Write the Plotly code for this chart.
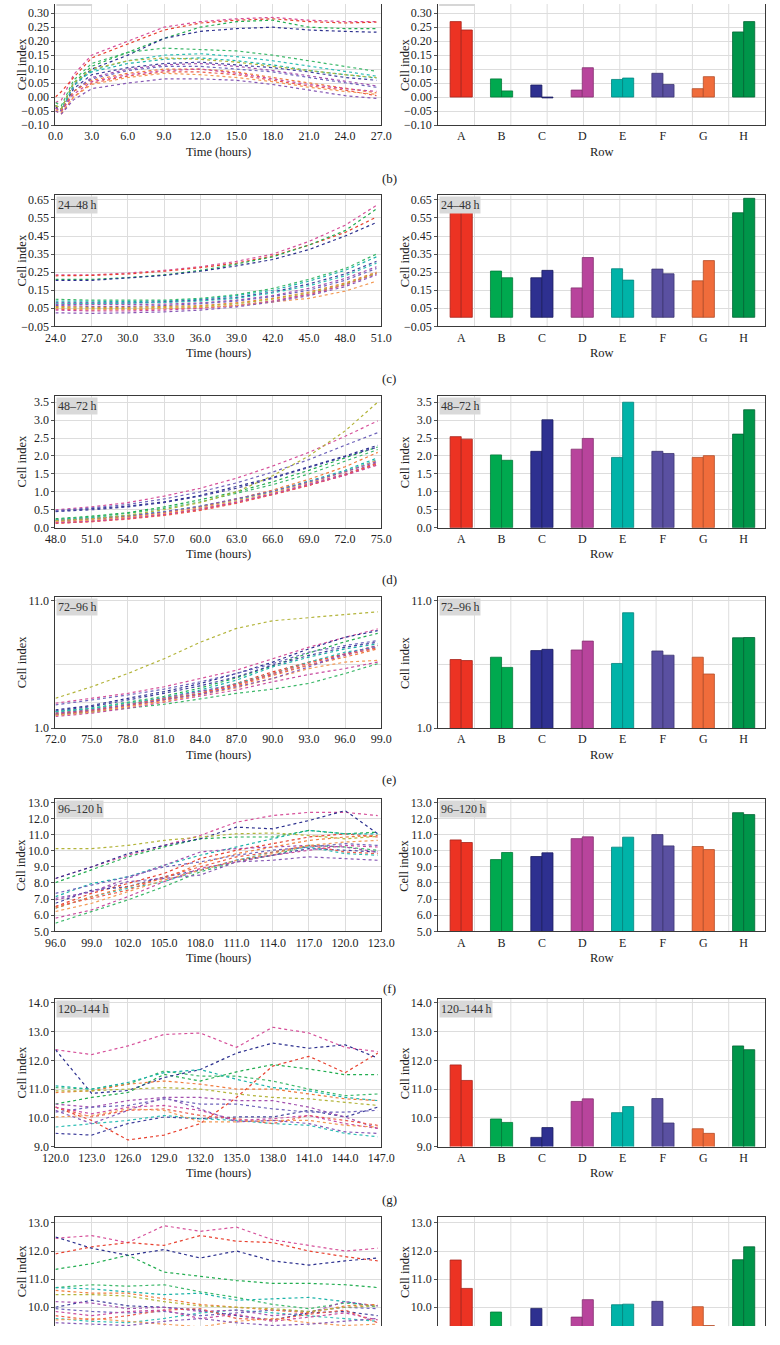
import plotly.graph_objects as go

W, H = 780, 1345
FONT = "Liberation Serif"

ROW_LABELS = ["A", "B", "C", "D", "E", "F", "G", "H"]
BAR_COLORS = ["#ec3323", "#00a94f", "#2e3090", "#b8449c", "#00b3a8", "#5a50a1", "#f06c3b", "#00954a"]
BAR_EDGES = ["#a8231a", "#007a39", "#1c1d60", "#84306f", "#00837b", "#3d3672", "#b24c28", "#006633"]
LINE_COLORS = ["#d6509a", "#e8402e", "#22ad50", "#2b2f8e", "#3cb86a", "#1ab3a8", "#3f3f9c", "#2fbfb5",
               "#a24fae", "#6d62ba", "#f07a3a", "#ec5b4a", "#c84a9e", "#f39a55", "#8658b5", "#b3b43a"]

# ---------------- 0-24 h ----------------
T_0_24 = [0, 0.5, 1.5, 3, 6, 9, 12, 15, 18, 21, 24, 26.6]
CI_0_24 = [
    [-0.02, -0.01, 0.08, 0.15, 0.20, 0.25, 0.27, 0.28, 0.285, 0.275, 0.27, 0.27],
    [0.0, 0.02, 0.07, 0.14, 0.19, 0.24, 0.265, 0.275, 0.28, 0.27, 0.265, 0.268],
    [-0.03, -0.04, 0.05, 0.11, 0.16, 0.21, 0.25, 0.27, 0.275, 0.25, 0.245, 0.245],
    [-0.03, -0.045, 0.04, 0.10, 0.15, 0.21, 0.235, 0.245, 0.25, 0.24, 0.235, 0.232],
    [-0.02, -0.03, 0.06, 0.12, 0.16, 0.175, 0.17, 0.165, 0.15, 0.13, 0.11, 0.092],
    [-0.03, -0.04, 0.05, 0.09, 0.12, 0.135, 0.14, 0.13, 0.115, 0.095, 0.08, 0.068],
    [-0.035, -0.05, 0.03, 0.08, 0.105, 0.12, 0.125, 0.115, 0.105, 0.09, 0.07, 0.06],
    [-0.03, -0.045, 0.04, 0.095, 0.13, 0.15, 0.155, 0.145, 0.13, 0.11, 0.09, 0.075],
    [-0.04, -0.05, 0.02, 0.07, 0.10, 0.115, 0.12, 0.11, 0.095, 0.075, 0.055, 0.04],
    [-0.04, -0.05, 0.02, 0.065, 0.095, 0.11, 0.11, 0.10, 0.09, 0.07, 0.05, 0.035],
    [-0.03, -0.045, 0.02, 0.06, 0.085, 0.10, 0.10, 0.09, 0.07, 0.05, 0.03, 0.015],
    [-0.05, -0.06, 0.0, 0.05, 0.075, 0.09, 0.09, 0.08, 0.06, 0.04, 0.025, 0.005],
    [-0.04, -0.05, 0.01, 0.055, 0.08, 0.095, 0.10, 0.085, 0.065, 0.045, 0.03, 0.02],
    [-0.045, -0.055, 0.0, 0.045, 0.07, 0.085, 0.08, 0.07, 0.055, 0.035, 0.02, 0.01],
    [-0.05, -0.06, -0.01, 0.03, 0.05, 0.065, 0.065, 0.06, 0.045, 0.025, 0.005, -0.005],
    [-0.03, -0.04, 0.05, 0.10, 0.13, 0.14, 0.135, 0.125, 0.11, 0.095, 0.08, 0.07],
]
BAR1_0_24 = [0.27, 0.065, 0.043, 0.025, 0.063, 0.085, 0.03, 0.233]
BAR2_0_24 = [0.24, 0.022, -0.003, 0.105, 0.068, 0.045, 0.073, 0.27]
YT_0_24 = [-0.10, -0.05, 0.0, 0.05, 0.10, 0.15, 0.20, 0.25, 0.30]

# ---------------- 24-48 h ----------------
T_24_48 = [24, 27, 30, 33, 36, 39, 42, 45, 48, 50.6]
CI_24_48 = [
    [0.235, 0.235, 0.245, 0.26, 0.28, 0.31, 0.35, 0.42, 0.51, 0.62],
    [0.23, 0.232, 0.24, 0.255, 0.275, 0.30, 0.34, 0.40, 0.47, 0.555],
    [0.21, 0.21, 0.22, 0.235, 0.26, 0.295, 0.335, 0.40, 0.48, 0.60],
    [0.205, 0.205, 0.218, 0.232, 0.255, 0.285, 0.32, 0.375, 0.45, 0.525],
    [0.10, 0.095, 0.095, 0.095, 0.105, 0.125, 0.16, 0.21, 0.27, 0.35],
    [0.09, 0.088, 0.088, 0.09, 0.10, 0.12, 0.15, 0.20, 0.26, 0.335],
    [0.08, 0.078, 0.08, 0.085, 0.095, 0.11, 0.14, 0.185, 0.24, 0.31],
    [0.075, 0.075, 0.078, 0.082, 0.09, 0.105, 0.135, 0.175, 0.23, 0.30],
    [0.07, 0.068, 0.07, 0.073, 0.08, 0.095, 0.12, 0.16, 0.215, 0.28],
    [0.065, 0.06, 0.06, 0.065, 0.075, 0.09, 0.115, 0.15, 0.205, 0.27],
    [0.06, 0.055, 0.055, 0.058, 0.065, 0.08, 0.105, 0.14, 0.19, 0.25],
    [0.045, 0.04, 0.042, 0.045, 0.052, 0.065, 0.09, 0.125, 0.18, 0.245],
    [0.04, 0.035, 0.035, 0.04, 0.05, 0.065, 0.09, 0.13, 0.18, 0.24],
    [0.05, 0.045, 0.045, 0.048, 0.055, 0.065, 0.085, 0.105, 0.145, 0.20],
    [0.025, 0.022, 0.025, 0.03, 0.04, 0.058, 0.085, 0.12, 0.17, 0.235],
    [0.055, 0.05, 0.05, 0.055, 0.06, 0.075, 0.10, 0.135, 0.185, 0.245],
]
BAR1_24_48 = [0.581, 0.256, 0.219, 0.163, 0.269, 0.267, 0.202, 0.579]
BAR2_24_48 = [0.616, 0.219, 0.260, 0.331, 0.206, 0.241, 0.314, 0.659]
YT_24_48 = [-0.05, 0.05, 0.15, 0.25, 0.35, 0.45, 0.55, 0.65]

# ---------------- 48-72 h ----------------
T_48_72 = [48, 51, 54, 57, 60, 63, 66, 69, 72, 74.7]
CI_48_72 = [
    [0.5, 0.58, 0.7, 0.88, 1.1, 1.38, 1.72, 2.1, 2.55, 2.98],
    [0.12, 0.17, 0.25, 0.36, 0.5, 0.7, 0.93, 1.18, 1.47, 1.78],
    [0.25, 0.32, 0.42, 0.58, 0.78, 1.0, 1.28, 1.6, 1.95, 2.25],
    [0.46, 0.52, 0.6, 0.72, 0.9, 1.15, 1.4, 1.7, 2.0, 2.3],
    [0.23, 0.3, 0.4, 0.54, 0.72, 0.95, 1.2, 1.5, 1.85, 2.18],
    [0.22, 0.27, 0.34, 0.45, 0.6, 0.8, 1.02, 1.3, 1.6, 1.95],
    [0.45, 0.5, 0.58, 0.7, 0.88, 1.1, 1.38, 1.68, 1.98, 2.25],
    [0.2, 0.25, 0.32, 0.43, 0.58, 0.78, 1.0, 1.27, 1.57, 1.9],
    [0.16, 0.2, 0.28, 0.38, 0.53, 0.72, 0.95, 1.22, 1.5, 1.82],
    [0.48, 0.55, 0.65, 0.8, 1.0, 1.25, 1.55, 1.9, 2.3, 2.65],
    [0.18, 0.23, 0.3, 0.42, 0.58, 0.8, 1.05, 1.35, 1.7, 2.1],
    [0.13, 0.17, 0.24, 0.34, 0.48, 0.68, 0.92, 1.18, 1.48, 1.8],
    [0.14, 0.18, 0.26, 0.37, 0.52, 0.71, 0.94, 1.2, 1.46, 1.75],
    [0.17, 0.21, 0.29, 0.4, 0.55, 0.75, 0.98, 1.25, 1.55, 1.88],
    [0.2, 0.25, 0.33, 0.44, 0.6, 0.8, 1.02, 1.28, 1.56, 1.85],
    [0.2, 0.25, 0.35, 0.5, 0.7, 1.0, 1.45, 2.0, 2.7, 3.5],
]
BAR1_48_72 = [2.54, 2.03, 2.13, 2.19, 1.96, 2.13, 1.96, 2.61]
BAR2_48_72 = [2.47, 1.88, 3.01, 2.49, 3.50, 2.07, 2.01, 3.29]
YT_48_72 = [0.0, 0.5, 1.0, 1.5, 2.0, 2.5, 3.0, 3.5]

# ---------------- 72-96 h ----------------
T_72_96 = [72, 75, 78, 81, 84, 87, 90, 93, 96, 98.7]
CI_72_96 = [
    [2.95, 3.34, 3.73, 4.25, 4.9, 5.55, 6.45, 7.36, 8.14, 8.8],
    [2.04, 2.3, 2.69, 3.21, 3.73, 4.51, 5.42, 6.19, 6.84, 7.49],
    [2.3, 2.56, 3.03, 3.5, 4.15, 4.95, 5.9, 6.9, 7.8, 8.45],
    [2.43, 2.77, 3.34, 3.86, 4.5, 5.29, 6.19, 7.23, 8.14, 8.66],
    [2.04, 2.25, 2.56, 2.87, 3.29, 3.73, 4.06, 4.51, 5.29, 6.06],
    [2.25, 2.51, 2.95, 3.39, 3.99, 4.77, 5.81, 6.58, 7.23, 7.62],
    [2.35, 2.69, 3.21, 3.73, 4.32, 5.03, 5.94, 6.71, 7.36, 7.75],
    [2.3, 2.56, 2.95, 3.34, 3.86, 4.5, 5.29, 6.19, 6.97, 7.36],
    [2.09, 2.35, 2.82, 3.34, 3.86, 4.43, 5.21, 5.99, 6.71, 7.36],
    [2.82, 3.21, 3.6, 4.06, 4.64, 5.29, 6.06, 6.97, 7.49, 7.88],
    [2.17, 2.43, 2.87, 3.29, 3.73, 4.32, 5.1, 5.94, 6.58, 7.23],
    [2.12, 2.38, 2.77, 3.21, 3.7, 4.4, 5.3, 6.1, 6.8, 7.3],
    [1.91, 2.17, 2.56, 3.03, 3.47, 3.99, 4.64, 5.21, 5.68, 6.19],
    [1.99, 2.25, 2.69, 3.08, 3.6, 4.17, 4.9, 5.68, 6.19, 6.32],
    [2.17, 2.43, 2.82, 3.21, 3.65, 4.25, 4.9, 5.81, 6.84, 7.49],
    [3.34, 4.25, 5.29, 6.45, 7.75, 8.84, 9.44, 9.7, 9.96, 10.14],
]
BAR1_72_96 = [6.39, 6.57, 7.09, 7.14, 6.08, 7.06, 6.57, 8.10]
BAR2_72_96 = [6.31, 5.77, 7.19, 7.84, 10.07, 6.73, 5.25, 8.12]
YT_72_96 = [1.0, 11.0]
YGRID_72_96 = [3.0, 6.0]

# ---------------- 96-120 h ----------------
T_96_120 = [96, 99, 102, 105, 108, 111, 114, 117, 120, 122.7]
CI_96_120 = [
    [8.28, 9.0, 9.72, 10.33, 10.95, 11.77, 12.18, 12.38, 12.38, 12.18],
    [6.54, 7.36, 7.97, 8.59, 9.51, 10.03, 10.44, 10.85, 11.05, 10.85],
    [8.02, 8.8, 9.62, 10.23, 10.74, 10.85, 10.85, 11.26, 11.05, 11.15],
    [8.28, 9.0, 9.82, 10.33, 10.74, 11.46, 11.36, 11.87, 12.49, 11.05],
    [5.51, 6.23, 6.95, 7.77, 8.69, 9.31, 9.72, 10.33, 10.23, 10.03],
    [7.15, 7.97, 8.38, 9.1, 9.72, 10.23, 10.74, 11.26, 11.05, 11.05],
    [6.74, 7.56, 7.77, 8.38, 8.8, 9.41, 9.72, 10.13, 10.03, 9.92],
    [6.44, 7.15, 7.67, 8.08, 8.8, 9.41, 9.92, 10.23, 9.82, 9.72],
    [6.95, 7.46, 8.28, 9.1, 9.92, 10.13, 10.23, 10.33, 10.23, 9.92],
    [7.36, 7.87, 8.38, 9.0, 9.31, 9.72, 10.03, 10.23, 10.44, 10.33],
    [6.44, 7.15, 7.77, 8.28, 9.2, 9.82, 10.23, 10.64, 10.85, 10.95],
    [6.54, 7.05, 7.56, 8.38, 9.0, 9.62, 9.92, 10.33, 9.92, 9.82],
    [5.82, 6.33, 7.15, 8.08, 8.9, 9.31, 9.72, 10.03, 10.33, 10.23],
    [6.23, 6.74, 7.46, 8.18, 8.8, 9.41, 9.82, 10.33, 10.54, 10.64],
    [7.05, 7.46, 8.08, 8.28, 8.49, 9.31, 9.41, 9.62, 9.51, 9.41],
    [10.13, 10.13, 10.33, 10.64, 10.85, 11.05, 11.1, 10.95, 10.74, 10.89],
]
BAR1_96_120 = [10.67, 9.45, 9.64, 10.75, 10.22, 11.0, 10.26, 12.36]
BAR2_96_120 = [10.51, 9.89, 9.87, 10.86, 10.84, 10.30, 10.07, 12.24]
YT_96_120 = [5.0, 6.0, 7.0, 8.0, 9.0, 10.0, 11.0, 12.0, 13.0]

# ---------------- 120-144 h ----------------
T_120_144 = [120, 123, 126, 129, 132, 135, 138, 141, 144, 146.7]
CI_120_144 = [
    [12.37, 12.2, 12.5, 12.9, 12.95, 12.45, 13.15, 12.95, 12.45, 12.3],
    [10.37, 9.91, 9.23, 9.4, 9.8, 10.71, 11.8, 12.14, 11.57, 12.25],
    [10.48, 10.71, 10.88, 11.51, 11.28, 11.6, 11.85, 11.7, 11.5, 11.5],
    [12.37, 10.85, 10.95, 11.4, 11.68, 12.25, 12.6, 12.42, 12.54, 12.08],
    [11.05, 11.0, 11.17, 11.63, 11.45, 11.45, 11.28, 11.0, 10.77, 10.83],
    [11.11, 11.0, 11.23, 11.57, 11.68, 11.34, 11.05, 10.94, 10.71, 10.6],
    [9.46, 9.4, 9.8, 10.03, 9.97, 10.03, 10.03, 10.26, 10.03, 10.37],
    [9.68, 9.8, 9.91, 10.08, 9.97, 9.91, 9.8, 9.74, 9.46, 9.34],
    [10.48, 10.37, 10.6, 10.71, 10.71, 10.6, 10.6, 10.37, 10.03, 9.63],
    [10.2, 10.37, 10.43, 10.66, 10.48, 10.48, 10.31, 10.2, 10.2, 10.26],
    [10.88, 10.94, 11.17, 11.28, 11.17, 11.0, 11.0, 10.83, 10.66, 10.6],
    [10.37, 10.03, 10.26, 10.31, 10.08, 9.97, 9.8, 10.08, 9.91, 9.74],
    [10.37, 10.14, 10.37, 10.43, 10.26, 9.91, 9.97, 10.08, 9.8, 9.63],
    [10.03, 10.08, 10.31, 10.26, 9.86, 9.86, 9.91, 9.91, 9.74, 9.68],
    [10.26, 9.8, 10.26, 10.71, 10.31, 9.86, 9.91, 9.8, 9.51, 9.46],
    [10.94, 10.94, 11.0, 11.05, 11.0, 10.83, 10.71, 10.66, 10.54, 10.43],
]
BAR1_120_144 = [11.84, 9.96, 9.32, 10.57, 10.18, 10.67, 9.62, 12.50]
BAR2_120_144 = [11.30, 9.84, 9.66, 10.66, 10.39, 9.82, 9.46, 12.37]
YT_120_144 = [9.0, 10.0, 11.0, 12.0, 13.0, 14.0]

# ---------------- 144-168 h ----------------
T_144_168 = [144, 147, 150, 153, 156, 159, 162, 165, 168, 170.7]
CI_144_168 = [
    [12.45, 12.55, 12.3, 12.9, 12.7, 12.85, 12.4, 12.2, 12.0, 12.1],
    [11.9, 12.15, 12.3, 12.2, 12.55, 12.35, 12.3, 12.0, 11.8, 11.65],
    [11.35, 11.55, 11.85, 11.25, 11.1, 10.95, 10.85, 10.85, 10.8, 10.7],
    [12.5, 12.1, 11.85, 12.05, 11.75, 12.0, 11.65, 11.5, 11.65, 11.75],
    [10.7, 10.8, 10.75, 10.8, 10.55, 10.35, 10.1, 9.95, 10.15, 10.05],
    [10.7, 10.65, 10.55, 10.45, 10.5, 10.25, 10.3, 10.35, 10.2, 10.0],
    [10.0, 10.25, 10.05, 10.0, 9.9, 9.7, 9.55, 9.8, 9.85, 9.7],
    [9.6, 9.5, 9.45, 9.6, 9.8, 9.9, 9.8, 9.7, 9.6, 9.5],
    [10.2, 10.15, 9.95, 10.0, 9.85, 9.9, 9.7, 9.8, 10.2, 10.05],
    [9.95, 9.85, 9.8, 9.85, 9.7, 9.8, 9.9, 9.85, 10.0, 9.95],
    [10.6, 10.5, 10.5, 10.3, 10.1, 10.0, 9.9, 9.8, 10.05, 10.1],
    [9.7, 9.55, 9.7, 9.9, 9.95, 9.6, 9.55, 9.75, 9.9, 9.45],
    [9.85, 9.7, 9.85, 9.9, 9.6, 9.75, 9.5, 9.65, 9.8, 9.55],
    [9.55, 9.6, 9.5, 9.4, 9.3, 9.5, 9.6, 9.45, 9.35, 9.4],
    [9.45, 9.4, 9.35, 9.5, 9.6, 9.45, 9.35, 9.4, 9.5, 9.6],
    [10.45, 10.45, 10.4, 10.2, 10.05, 10.0, 9.95, 9.85, 10.0, 10.05],
]
BAR1_144_168 = [11.68, 9.83, 9.96, 9.65, 10.09, 10.21, 10.02, 11.69]
BAR2_144_168 = [10.67, 9.1, 9.0, 10.27, 10.11, 9.2, 9.35, 12.15]
YT_144_168 = [10.0, 11.0, 12.0, 13.0]

PANELS = [
    dict(tag="0–24\u2009h", t=T_0_24, ci=CI_0_24, b1=BAR1_0_24, b2=BAR2_0_24, xr=[0, 27],
         top=0, bot=122, yr=[-0.10, 0.333], yt=YT_0_24, fmt=".2f", letter="(b)", ly=176, cut="top"),
    dict(tag="24–48\u2009h", t=T_24_48, ci=CI_24_48, b1=BAR1_24_48, b2=BAR2_24_48, xr=[24, 51],
         top=193, bot=325, yr=[-0.05, 0.675], yt=YT_24_48, fmt=".2f", letter="(c)", ly=378, cut=None),
    dict(tag="48–72\u2009h", t=T_48_72, ci=CI_48_72, b1=BAR1_48_72, b2=BAR2_48_72, xr=[48, 75],
         top=395, bot=528, yr=[0.0, 3.68], yt=YT_48_72, fmt=".1f", letter="(d)", ly=580, cut=None),
    dict(tag="72–96\u2009h", t=T_72_96, ci=CI_72_96, b1=BAR1_72_96, b2=BAR2_72_96, xr=[72, 99],
         top=598, bot=730, yr=[1.0, 11.3], yt=YT_72_96, fmt=".1f", letter="(e)", ly=782, cut=None,
         ygrid=YGRID_72_96),
    dict(tag="96–120\u2009h", t=T_96_120, ci=CI_96_120, b1=BAR1_96_120, b2=BAR2_96_120, xr=[96, 123],
         top=802, bot=935, yr=[5.0, 13.18], yt=YT_96_120, fmt=".1f", letter="(f)", ly=993, cut=None),
    dict(tag="120–144\u2009h", t=T_120_144, ci=CI_120_144, b1=BAR1_120_144, b2=BAR2_120_144, xr=[120, 147],
         top=1003, bot=1152, yr=[9.0, 14.14], yt=YT_120_144, fmt=".1f", letter="(g)", ly=1205, cut=None),
    dict(tag="144–168\u2009h", t=T_144_168, ci=CI_144_168, b1=BAR1_144_168, b2=BAR2_144_168, xr=[144, 171],
         top=1223, bot=1333, yr=[9.33, 13.21], yt=YT_144_168, fmt=".1f", letter=None, ly=None, cut="bottom"),
]

LEFT_X = (43, 381)
RIGHT_X = (440, 779)
FRAME = "#3a3a3a"
GRID = "#dddddd"

fig = go.Figure()
layout = dict(width=W, height=H, margin=dict(l=0, r=0, t=0, b=0), showlegend=False,
              plot_bgcolor="white", paper_bgcolor="white", barmode="overlay",
              font=dict(family=FONT, color="#222222", size=12))
annotations = []
shapes = []


def ax_name(kind, idx):
    return kind if idx == 1 else f"{kind}{idx}"


for i, p in enumerate(PANELS):
    ydom = [1 - p["bot"] / H, 1 - p["top"] / H]
    ymid = 1 - (p["top"] + p["bot"]) / 2 / H
    for side, xpx in (("L", LEFT_X), ("R", RIGHT_X)):
        idx = 2 * i + (1 if side == "L" else 2)
        xn, yn = ax_name("x", idx), ax_name("y", idx)
        xdom = [xpx[0] / W, xpx[1] / W]
        xa = dict(domain=xdom, anchor=yn, showline=True, linecolor=FRAME, linewidth=1, mirror=True,
                  zeroline=False, ticks="", tickfont=dict(family=FONT, size=12, color="#222"))
        ya = dict(domain=ydom, anchor=xn, range=p["yr"], showline=True, linecolor=FRAME, linewidth=1,
                  mirror=True, zeroline=False, tickvals=p["yt"], tickformat=p["fmt"],
                  showgrid=True, gridcolor=GRID, gridwidth=1,
                  ticks="outside", ticklen=3, tickcolor="#555",
                  tickfont=dict(family=FONT, size=12, color="#222"))
        if side == "L":
            xa.update(range=p["xr"], dtick=3, tick0=0, tickformat=".1f", showgrid=True,
                      gridcolor=GRID, gridwidth=1)
            for k, series in enumerate(p["ci"]):
                fig.add_trace(go.Scatter(x=p["t"], y=series, xaxis=xn, yaxis=yn, mode="lines",
                                         line=dict(color=LINE_COLORS[k], width=1.2, dash="dot")))
            xtitle = "Time (hours)"
        else:
            xa.update(range=[-0.57, 7.53], tickvals=list(range(8)), ticktext=ROW_LABELS, showgrid=False)
            fig.add_trace(go.Bar(x=list(range(8)), y=p["b1"], xaxis=xn, yaxis=yn, offset=-0.275, width=0.275,
                                 marker=dict(color=BAR_COLORS, line=dict(color=BAR_EDGES, width=0.8))))
            fig.add_trace(go.Bar(x=list(range(8)), y=p["b2"], xaxis=xn, yaxis=yn, offset=0.0, width=0.275,
                                 marker=dict(color=BAR_COLORS, line=dict(color=BAR_EDGES, width=0.8))))
            for k in range(1, 9):
                shapes.append(dict(type="line", xref=f"{xn} domain", yref=f"{yn} domain",
                                   x0=k / 9, x1=k / 9, y0=0, y1=1, layer="below",
                                   line=dict(color=GRID, width=1)))
            xtitle = "Row"
        if p.get("ygrid"):
            for gv in p["ygrid"]:
                shapes.append(dict(type="line", xref=f"{xn} domain", yref=yn, x0=0, x1=1, y0=gv, y1=gv,
                                   layer="below", line=dict(color=GRID, width=1)))
        if p["cut"] == "top":
            xa.update(mirror=False)
            shapes.append(dict(type="rect", xref="paper", yref="paper",
                               x0=(xpx[0] + 1) / W, x1=(xpx[0] + 38) / W, y0=1 - 2 / H, y1=1,
                               fillcolor="#d6d6d6", line=dict(width=0)))
        elif p["cut"] == "bottom":
            xa.update(side="top", mirror=False, showticklabels=False)
        else:
            annotations.append(dict(text=p["tag"], xref=f"{xn} domain", yref=f"{yn} domain", x=0, y=1,
                                    xanchor="left", yanchor="top", showarrow=False, xshift=1, yshift=-1,
                                    bgcolor="#d9d9d9", borderpad=1,
                                    font=dict(family=FONT, size=12, color="#333")))
        if p["cut"] != "bottom":
            annotations.append(dict(text=xtitle, xref="paper", yref="paper",
                                    x=(xpx[0] + xpx[1]) / 2 / W, y=1 - (p["bot"] + 27) / H,
                                    xanchor="center", yanchor="middle", showarrow=False,
                                    font=dict(family=FONT, size=12.5, color="#222")))
        cx = 8 if side == "L" else 405
        annotations.append(dict(text="Cell index", xref="paper", yref="paper", x=cx / W, y=ymid,
                                textangle=-90, xanchor="center", yanchor="middle", showarrow=False,
                                font=dict(family=FONT, size=12.5, color="#222")))
        layout["xaxis" if idx == 1 else f"xaxis{idx}"] = xa
        layout["yaxis" if idx == 1 else f"yaxis{idx}"] = ya
    if p["letter"]:
        annotations.append(dict(text=p["letter"], xref="paper", yref="paper", x=389 / W, y=1 - p["ly"] / H,
                                xanchor="center", yanchor="middle", showarrow=False,
                                font=dict(family=FONT, size=13, color="#222")))

layout["annotations"] = annotations
layout["shapes"] = shapes
fig.update_layout(**layout)
fig.write_html("out.html", config={"displayModeBar": False, "staticPlot": True},
               post_script="document.body.style.margin='0';document.body.style.padding='0';")
